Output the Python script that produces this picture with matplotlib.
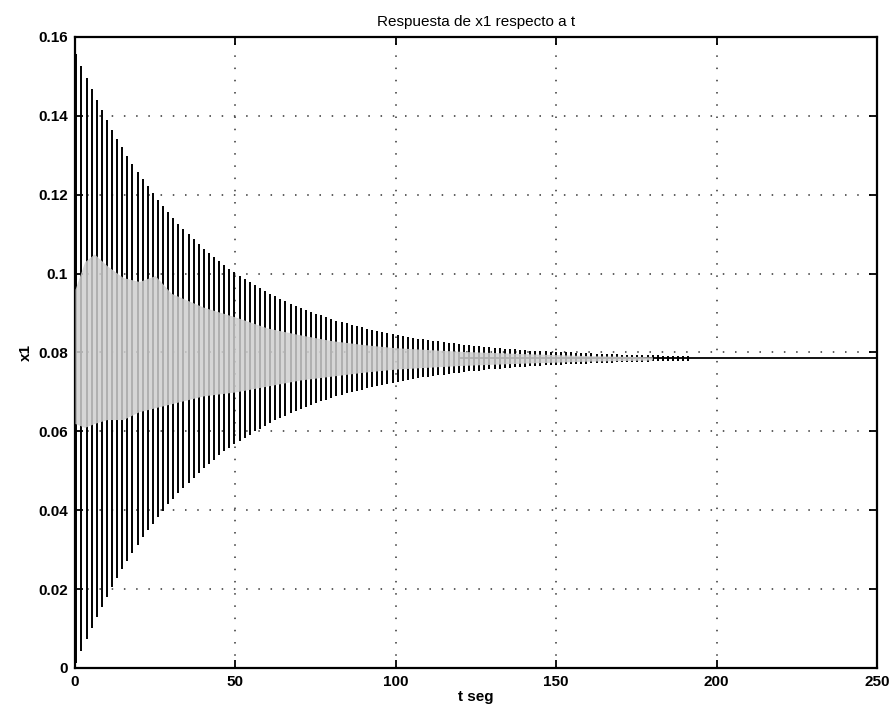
import numpy as np
import matplotlib
matplotlib.use("Agg")
import matplotlib.pyplot as plt

plt.rcParams['font.family'] = ['Liberation Sans', 'DejaVu Sans']

# tiempos de cada pico de la oscilacion (s)
peak_t = [
    0.4, 2.0, 3.6, 5.2, 6.8, 8.4, 9.9, 11.5, 13.1, 14.7,
    16.3, 17.9, 19.5, 21.1, 22.7, 24.3, 25.8, 27.4, 29.0, 30.6,
    32.2, 33.8, 35.4, 37.0, 38.6, 40.2, 41.7, 43.3, 44.9, 46.5,
    48.1, 49.7, 51.3, 52.9, 54.5, 56.1, 57.6, 59.2, 60.8, 62.4,
    64.0, 65.6, 67.2, 68.8, 70.4, 72.0, 73.5, 75.1, 76.7, 78.3,
    79.9, 81.5, 83.1, 84.7, 86.3, 87.9, 89.4, 91.0, 92.6, 94.2,
    95.8, 97.4, 99.0, 100.6, 102.2, 103.8, 105.3, 106.9, 108.5, 110.1,
    111.7, 113.3, 114.9, 116.5, 118.1, 119.7, 121.2, 122.8, 124.4, 126.0,
    127.6, 129.2, 130.8, 132.4, 134.0, 135.6, 137.1, 138.7, 140.3, 141.9,
    143.5, 145.1, 146.7, 148.3, 149.9, 151.5, 153.0, 154.6, 156.2, 157.8,
    159.4, 161.0, 162.6, 164.2, 165.8, 167.4, 168.9, 170.5, 172.1, 173.7,
    175.3, 176.9, 178.5, 180.1, 181.7, 183.3, 184.8, 186.4, 188.0, 189.6,
    191.2,
]

# amplitud de cada pico alrededor del valor final
peak_swing = [
    0.0772, 0.0741, 0.0712, 0.0683, 0.0656, 0.0630, 0.0604, 0.0580, 0.0557, 0.0535,
    0.0513, 0.0493, 0.0473, 0.0454, 0.0436, 0.0419, 0.0402, 0.0386, 0.0370, 0.0356,
    0.0341, 0.0328, 0.0315, 0.0302, 0.0290, 0.0278, 0.0267, 0.0257, 0.0246, 0.0236,
    0.0227, 0.0218, 0.0209, 0.0201, 0.0193, 0.0185, 0.0178, 0.0171, 0.0164, 0.0157,
    0.0151, 0.0145, 0.0139, 0.0134, 0.0128, 0.0123, 0.0118, 0.0113, 0.0109, 0.0105,
    0.0100, 0.0096, 0.0093, 0.0089, 0.0085, 0.0082, 0.0079, 0.0075, 0.0072, 0.0070,
    0.0067, 0.0064, 0.0062, 0.0059, 0.0057, 0.0054, 0.0052, 0.0050, 0.0048, 0.0046,
    0.0044, 0.0043, 0.0041, 0.0039, 0.0038, 0.0036, 0.0035, 0.0033, 0.0032, 0.0031,
    0.0030, 0.0028, 0.0027, 0.0026, 0.0025, 0.0024, 0.0023, 0.0022, 0.0021, 0.0020,
    0.0020, 0.0019, 0.0018, 0.0017, 0.0017, 0.0016, 0.0015, 0.0015, 0.0014, 0.0014,
    0.0013, 0.00125, 0.0012, 0.00115, 0.0011, 0.00106, 0.00102, 0.00098, 0.00094, 0.0009,
    0.00087, 0.00083, 0.0008, 0.00077, 0.00074, 0.00071, 0.00068, 0.00065, 0.00063, 0.0006,
    0.00058,
]

x1_settle = 0.0785
settle_t = [120, 250]

# banda densa (gris) en el centro de la oscilacion
band_t = [0, 3, 6, 10, 15, 20, 25, 30, 40, 50, 60, 70, 80, 90, 100, 120, 140, 160, 180]
band_hi = [0.096, 0.103, 0.105, 0.102, 0.099, 0.098, 0.0995, 0.095, 0.0915, 0.089,
           0.0862, 0.0845, 0.083, 0.082, 0.0812, 0.0803, 0.0797, 0.0792, 0.0789]
band_lo = [0.062, 0.061, 0.062, 0.063, 0.063, 0.065, 0.066, 0.067, 0.069, 0.070,
           0.0715, 0.073, 0.074, 0.075, 0.0758, 0.0767, 0.0773, 0.0778, 0.0781]

xticks = [0, 50, 100, 150, 200, 250]
yticks = [0, 0.02, 0.04, 0.06, 0.08, 0.1, 0.12, 0.14, 0.16]
ytick_labels = ['0', '0.02', '0.04', '0.06', '0.08', '0.1', '0.12', '0.14', '0.16']

t = np.array(peak_t)
sw = np.array(peak_swing)

fig = plt.figure(figsize=(8.94, 7.22), dpi=100)
ax = fig.add_axes([0.0839, 0.0748, 0.897, 0.874])

ax.vlines(t, x1_settle - sw, x1_settle + sw, colors='black', linewidth=1.4, zorder=2)
ax.plot(settle_t, [x1_settle, x1_settle], color='black', linewidth=1.3, zorder=2)
ax.fill_between(band_t, band_lo, band_hi, color='#cfcfcf', alpha=0.85,
                linewidth=0, zorder=3)

ax.set_xlim(0, 250)
ax.set_ylim(0, 0.16)
ax.set_xticks(xticks)
ax.set_xticklabels([str(v) for v in xticks], fontweight='bold')
ax.set_yticks(yticks)
ax.set_yticklabels(ytick_labels, fontweight='bold')
ax.grid(True, color='#333333', linestyle=(0, (1, 7)), linewidth=1.1)
ax.set_axisbelow(True)
ax.tick_params(direction='in', top=True, right=True, length=6, width=1.3,
               labelsize=11, pad=5)
for s in ax.spines.values():
    s.set_linewidth(1.6)

ax.set_title('Respuesta de x1 respecto a t', fontsize=11, pad=8)
ax.set_xlabel('t seg', fontsize=11, fontweight='bold', labelpad=1)
ax.set_ylabel('x1', fontsize=11, fontweight='bold', labelpad=4)

fig.savefig('out.png', dpi=100)
